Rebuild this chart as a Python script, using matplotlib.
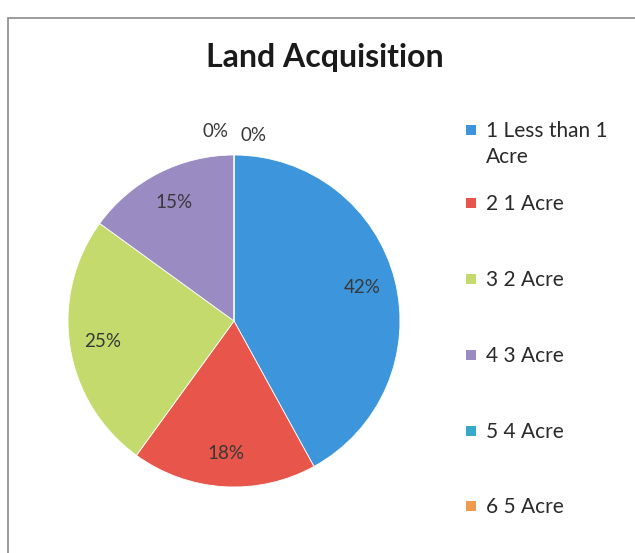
import matplotlib
matplotlib.use('Agg')
import matplotlib.pyplot as plt
from matplotlib.patches import Rectangle

# data (percent of respondents)
categories = ['1 Less than 1\nAcre', '2 1 Acre', '3 2 Acre', '4 3 Acre', '5 4 Acre', '6 5 Acre']
shares = [42, 18, 25, 15, 0, 0]
colors = ['#3d96dc', '#e8564b', '#c4da6c', '#9b8bc3', '#38a8c8', '#f09a50']

plt.rcParams['font.family'] = ['Lato', 'DejaVu Sans']

W, H = 635, 553
fig = plt.figure(figsize=(W / 100, H / 100), dpi=100)
fig.patch.set_facecolor('white')

# chart frame
fig.patches.append(Rectangle((8 / W, -0.02), 1.0, (H - 18) / H + 0.02,
                             transform=fig.transFigure, fill=False,
                             edgecolor='#8a8a8a', linewidth=1.2))

cx, cy, r = 234, 321, 166
ax = fig.add_axes([(cx - r) / W, (H - cy - r) / H, 2 * r / W, 2 * r / H])
wedges, texts, autotexts = ax.pie(
    shares, colors=colors, startangle=90, counterclock=False,
    autopct='%1.0f%%', pctdistance=0.8, radius=1.0,
    wedgeprops=dict(edgecolor='white', linewidth=0.6),
    textprops=dict(fontsize=13.5, color='#383838'))
ax.set_xlim(-1, 1)
ax.set_ylim(-1, 1)
ax.set_aspect('equal')
ax.axis('off')

# the two empty slices get their labels pushed above the pie
autotexts[4].set_position((-0.11, 1.14))
autotexts[5].set_position((0.12, 1.12))
for t in autotexts:
    t.set_clip_on(False)

fig.text(325 / W, 1 - 57 / H, 'Land Acquisition', ha='center', va='center',
         fontsize=23, fontweight='bold', color='#1a1a1a')

# legend, laid out like the Excel one
ys = [130, 203, 279, 355, 431, 506]
for lab, col, y in zip(categories, colors, ys):
    fig.patches.append(Rectangle((466 / W, 1 - (y + 5) / H), 10 / W, 10 / H,
                                 transform=fig.transFigure, facecolor=col,
                                 edgecolor='none'))
    fig.text(486 / W, 1 - (y - 9) / H, lab, ha='left', va='top',
             fontsize=15, color='#2a2a2a', linespacing=1.4)

fig.savefig('out.png', dpi=100)
